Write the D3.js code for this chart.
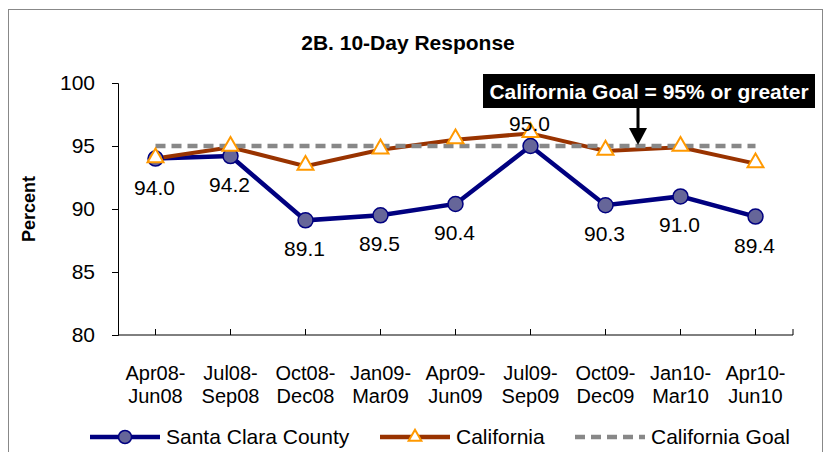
<html>
<head>
<script src="https://d3js.org/d3.v7.min.js"></script>
<style>
body { margin: 0; background: #fff; }
text { font-family: "Liberation Sans", Arial, sans-serif; }
</style>
</head>
<body>
<div id="chart"></div>
<script>
// data
var quarters = [["Apr08-","Jun08"],["Jul08-","Sep08"],["Oct08-","Dec08"],["Jan09-","Mar09"],["Apr09-","Jun09"],["Jul09-","Sep09"],["Oct09-","Dec09"],["Jan10-","Mar10"],["Apr10-","Jun10"]];
var santaClara = [94.0, 94.2, 89.1, 89.5, 90.4, 95.0, 90.3, 91.0, 89.4];
var california = [94.0, 94.9, 93.4, 94.7, 95.5, 96.0, 94.6, 94.9, 93.6];
var goal = [95, 95, 95, 95, 95, 95, 95, 95, 95];
var yTicks = [80, 85, 90, 95, 100];

var width = 825, height = 452;
var svg = d3.select("#chart").append("svg").attr("width", width).attr("height", height);

// outer frame
svg.append("rect").attr("x", 8.5).attr("y", 9.5).attr("width", 814).attr("height", 460)
   .attr("fill", "none").attr("stroke", "#888").attr("stroke-width", 1);

var plotLeft = 118, plotRight = 793, plotTop = 83, plotBottom = 335;
var idx = d3.range(quarters.length);
var x = d3.scaleBand().domain(idx).range([plotLeft, plotRight]);
var cx = function(i) { return x(i) + x.bandwidth() / 2; };
var y = d3.scaleLinear().domain([80, 100]).range([plotBottom, plotTop]);

// title
svg.append("text").attr("x", 408).attr("y", 50).attr("text-anchor", "middle")
   .style("font-size", "21px").style("font-weight", "bold").text("2B. 10-Day Response");

// y axis
var yAxis = svg.append("g").attr("transform", "translate(" + plotLeft + ",0)")
   .call(d3.axisLeft(y).tickValues(yTicks).tickSize(6).tickPadding(17));
yAxis.selectAll("text").style("font-size", "21px").style("font-family", "Liberation Sans, Arial, sans-serif").attr("fill", "#000");
yAxis.selectAll("line, path").attr("stroke", "#000");

// x axis, ticks at category centres
var xAxis = svg.append("g").attr("transform", "translate(0," + plotBottom + ")")
   .call(d3.axisBottom(x).tickSize(6).tickSizeOuter(6).tickFormat(""));
xAxis.selectAll(".tick line").attr("y2", -6);
xAxis.select("path").attr("d", "M" + plotLeft + ",0H" + plotRight + "V-6");
xAxis.selectAll("line, path").attr("stroke", "#000");

// x labels (two lines)
var xl = svg.append("g").selectAll("text").data(quarters).enter().append("text")
   .attr("text-anchor", "middle").style("font-size", "20px")
   .attr("transform", function(d, i) { return "translate(" + cx(i) + ",0)"; });
xl.append("tspan").attr("x", 0).attr("y", 380).text(function(d) { return d[0]; });
xl.append("tspan").attr("x", 0).attr("y", 403).text(function(d) { return d[1]; });

// y label
svg.append("text").attr("transform", "translate(35,209) rotate(-90)").attr("text-anchor", "middle")
   .style("font-size", "18px").style("font-weight", "bold").text("Percent");

var line = d3.line().x(function(d, i) { return cx(i); }).y(function(d) { return y(d); });

// Santa Clara
svg.append("path").datum(santaClara).attr("d", line).attr("fill", "none")
   .attr("stroke", "#000080").attr("stroke-width", 4.5);

// California
svg.append("path").datum(california).attr("d", line).attr("fill", "none")
   .attr("stroke", "#993300").attr("stroke-width", 4);

// California goal (dashed)
svg.append("path").datum(goal).attr("d", line).attr("fill", "none")
   .attr("stroke", "#888").attr("stroke-width", 4.5).attr("stroke-dasharray", "10,6");

svg.append("g").selectAll("circle").data(santaClara).enter().append("circle")
   .attr("cx", function(d, i) { return cx(i); }).attr("cy", function(d) { return y(d); })
   .attr("r", 7.5).attr("fill", "#666699").attr("stroke", "#000080").attr("stroke-width", 1.5);

var tri = d3.symbol().type(d3.symbolTriangle).size(110);
svg.append("g").selectAll("path").data(california).enter().append("path")
   .attr("d", tri)
   .attr("transform", function(d, i) { return "translate(" + cx(i) + "," + (y(d) - 1) + ")"; })
   .attr("fill", "#fff").attr("stroke", "#FF9900").attr("stroke-width", 2);

// Santa Clara data labels
svg.append("g").selectAll("text").data(santaClara).enter().append("text")
   .attr("x", function(d, i) { return cx(i) - 1; })
   .attr("y", function(d) { return d >= 95 ? y(d) - 15 : y(d) + 36; })
   .attr("text-anchor", "middle").style("font-size", "21px")
   .text(function(d) { return d.toFixed(1); });

// goal annotation
svg.append("rect").attr("x", 483).attr("y", 74).attr("width", 332).attr("height", 34).attr("fill", "#000");
svg.append("text").attr("x", 649).attr("y", 99).attr("text-anchor", "middle").attr("fill", "#fff")
   .style("font-size", "21px").style("font-weight", "bold").text("California Goal = 95% or greater");
svg.append("line").attr("x1", 638).attr("x2", 638).attr("y1", 108).attr("y2", 132)
   .attr("stroke", "#000").attr("stroke-width", 3);
svg.append("path").attr("d", "M629,128L647,128L638,145Z").attr("fill", "#000");

// legend
var legend = [
  {name: "Santa Clara County", x: 90, color: "#000080", dash: null, marker: "circle"},
  {name: "California", x: 380, color: "#993300", dash: null, marker: "triangle"},
  {name: "California Goal", x: 575, color: "#888", dash: "10,6", marker: null}
];
var lg = svg.append("g").selectAll("g").data(legend).enter().append("g")
   .attr("transform", function(d) { return "translate(" + d.x + ",437)"; });
lg.append("line").attr("x1", 0).attr("x2", 70).attr("y1", 0).attr("y2", 0)
   .attr("stroke", function(d) { return d.color; }).attr("stroke-width", 4.5)
   .attr("stroke-dasharray", function(d) { return d.dash; });
lg.filter(function(d) { return d.marker === "circle"; }).append("circle")
   .attr("cx", 35).attr("r", 6.5).attr("fill", "#666699").attr("stroke", "#000080").attr("stroke-width", 1.5);
lg.filter(function(d) { return d.marker === "triangle"; }).append("path")
   .attr("d", d3.symbol().type(d3.symbolTriangle).size(70)).attr("transform", "translate(35,0)")
   .attr("fill", "#fff").attr("stroke", "#FF9900").attr("stroke-width", 2);
lg.append("text").attr("x", 76).attr("y", 7).style("font-size", "21px").text(function(d) { return d.name; });
</script>
</body>
</html>
